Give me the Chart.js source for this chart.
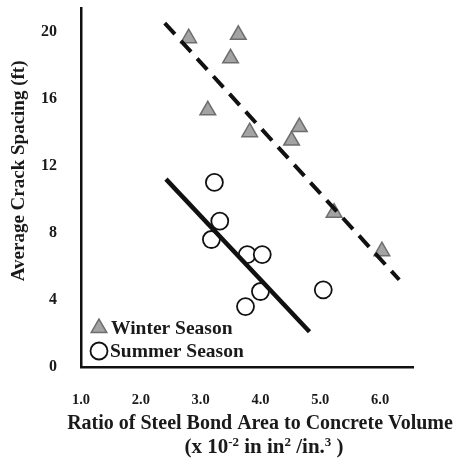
<!DOCTYPE html>
<html lang="en">
  <head>
    <meta charset="UTF-8" />
    <script src="https://cdn.jsdelivr.net/npm/chart.js@4.4.0/dist/chart.umd.min.js"></script>
    <title>Crack spacing vs bond area ratio</title>
    <style>
      body {
        margin: 0;
        padding: 0;
        background: #fff;
      }
      .container {
        width: 458px;
        height: 465px;
      }
    </style>
  </head>
  <body>
    <div class="container">
      <canvas id="chart"></canvas>
    </div>
    <script>
      // data
      const winterX = [2.8, 3.63, 3.5, 3.12, 3.82, 4.65, 4.52, 5.23, 6.03]
      const winterY = [19.6, 19.8, 18.4, 15.3, 14.0, 14.3, 13.5, 9.2, 6.9]
      const summerX = [3.23, 3.32, 3.18, 3.78, 4.03, 4.0, 3.75, 5.05]
      const summerY = [11.0, 8.7, 7.6, 6.7, 6.7, 4.5, 3.6, 4.6]
      const winterFitX = [2.4, 6.32]
      const winterFitY = [20.5, 5.2]
      const summerFitX = [2.42, 4.82]
      const summerFitY = [11.2, 2.1]
      const xTicks = [1, 2, 3, 4, 5, 6]
      const yTicks = [0, 4, 8, 12, 16, 20]
      const seriesNames = ['Winter Season', 'Summer Season']
      const xTitle = 'Ratio of Steel Bond Area to Concrete Volume'
      // second line: [text, superscript?]
      const xUnits = [['(x 10', false], ['-2', true], [' in in', false], ['2', true], [' /in.', false], ['3', true], [' )', false]]
      const yTitle = 'Average Crack Spacing (ft)'

      const pts = (xs, ys) => xs.map((x, i) => ({ x: x, y: ys[i] }))
      const serif = '"Liberation Serif", "Times New Roman", serif'

      const insideLegend = {
        id: 'insideLegend',
        afterDraw(chart) {
          const { ctx, chartArea } = chart
          const x0 = chartArea.left + 18
          const rows = [chartArea.bottom - 39, chartArea.bottom - 16]
          ctx.save()
          // triangle
          const r = 9
          const ty = rows[0]
          ctx.beginPath()
          ctx.moveTo(x0, ty - r)
          ctx.lineTo(x0 + r * Math.sin(2.0944), ty - r * Math.cos(2.0944))
          ctx.lineTo(x0 + r * Math.sin(4.1888), ty - r * Math.cos(4.1888))
          ctx.closePath()
          ctx.fillStyle = '#a3a3a3'
          ctx.strokeStyle = '#6e6e6e'
          ctx.lineWidth = 1.5
          ctx.fill()
          ctx.stroke()
          // circle
          ctx.beginPath()
          ctx.arc(x0, rows[1], 8.5, 0, Math.PI * 2)
          ctx.fillStyle = '#fff'
          ctx.strokeStyle = '#111'
          ctx.lineWidth = 1.8
          ctx.fill()
          ctx.stroke()
          ctx.fillStyle = '#1a1a1a'
          ctx.font = 'bold 19.5px ' + serif
          ctx.textBaseline = 'middle'
          ctx.textAlign = 'left'
          ctx.fillText(seriesNames[0], x0 + 12, rows[0] + 1)
          ctx.fillText(seriesNames[1], x0 + 11, rows[1] + 1)
          ctx.restore()
        },
      }

      // x title is wider than the axis, so it is drawn here instead of by the scale
      const xTitlePlugin = {
        id: 'xTitlePlugin',
        afterDraw(chart) {
          const { ctx, chartArea } = chart
          const cx = (chartArea.left + chartArea.right) / 2 + 13
          ctx.save()
          ctx.fillStyle = '#1a1a1a'
          ctx.textBaseline = 'alphabetic'
          ctx.textAlign = 'center'
          ctx.font = 'bold 20px ' + serif
          ctx.fillText(xTitle, cx, chartArea.bottom + 62)
          const big = 'bold 21px ' + serif
          const small = 'bold 13px ' + serif
          let w = 0
          xUnits.forEach(([t, sup]) => {
            ctx.font = sup ? small : big
            w += ctx.measureText(t).width
          })
          let x = cx + 4 - w / 2
          ctx.textAlign = 'left'
          xUnits.forEach(([t, sup]) => {
            ctx.font = sup ? small : big
            ctx.fillText(t, x, chartArea.bottom + 86 - (sup ? 7 : 0))
            x += ctx.measureText(t).width
          })
          ctx.restore()
        },
      }

      new Chart(document.getElementById('chart'), {
        type: 'scatter',
        data: {
          datasets: [
            {
              label: seriesNames[0] + ' fit',
              data: pts(winterFitX, winterFitY),
              showLine: true,
              borderColor: '#111',
              borderWidth: 4,
              borderDash: [15, 9],
              pointRadius: 0,
              fill: false,
            },
            {
              label: seriesNames[1] + ' fit',
              data: pts(summerFitX, summerFitY),
              showLine: true,
              borderColor: '#111',
              borderWidth: 4.5,
              pointRadius: 0,
              fill: false,
            },
            {
              label: seriesNames[0],
              data: pts(winterX, winterY),
              pointStyle: 'triangle',
              pointRadius: 9,
              backgroundColor: '#a3a3a3',
              borderColor: '#6e6e6e',
              borderWidth: 1.5,
            },
            {
              label: seriesNames[1],
              data: pts(summerX, summerY),
              pointStyle: 'circle',
              pointRadius: 8.5,
              backgroundColor: '#fff',
              borderColor: '#111',
              borderWidth: 1.8,
            },
          ],
        },
        options: {
          responsive: true,
          maintainAspectRatio: false,
          animation: false,
          layout: { autoPadding: false, padding: { top: 8, right: 45, left: 0, bottom: 0 } },
          plugins: {
            legend: { display: false },
            tooltip: { enabled: false },
          },
          scales: {
            x: {
              type: 'linear',
              min: 1,
              max: 6.55,
              afterBuildTicks: (axis) => {
                axis.ticks = xTicks.map((v) => ({ value: v }))
              },
              afterFit: (axis) => {
                axis.height = 98
                axis.paddingLeft = 0
                axis.paddingRight = 0
              },
              grid: { display: false },
              border: { display: true, color: '#111', width: 2.5 },
              ticks: {
                color: '#1a1a1a',
                padding: 17,
                font: { family: serif, size: 14.5, weight: 'bold' },
                callback: (v) => v.toFixed(1),
              },
              title: { display: false },
            },
            y: {
              type: 'linear',
              min: 0,
              max: 21.4,
              afterBuildTicks: (axis) => {
                axis.ticks = yTicks.map((v) => ({ value: v }))
              },
              afterFit: (axis) => {
                axis.width = 81
                axis.paddingTop = 0
                axis.paddingBottom = 0
              },
              grid: { display: false },
              border: { display: true, color: '#111', width: 2.5 },
              ticks: {
                color: '#1a1a1a',
                padding: 16,
                font: { family: serif, size: 16, weight: 'bold' },
              },
              title: {
                display: true,
                text: '       ' + yTitle,
                color: '#1a1a1a',
                font: { family: serif, size: 19, weight: 'bold' },
                padding: { top: 8, bottom: 0 },
              },
            },
          },
        },
        plugins: [insideLegend, xTitlePlugin],
      })
    </script>
  </body>
</html>
